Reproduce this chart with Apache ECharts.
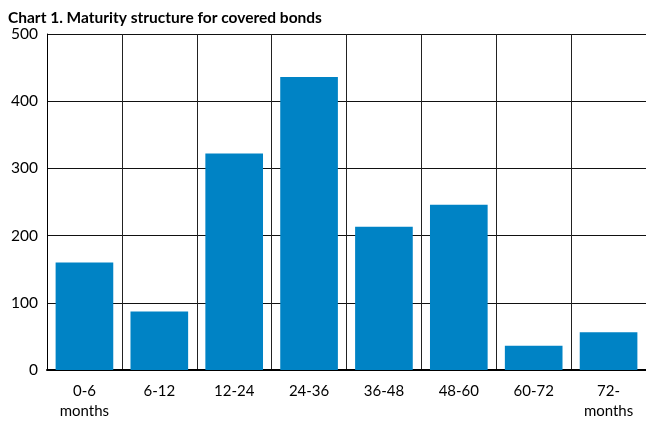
<!DOCTYPE html>
<html>
<head>
<meta charset="utf-8">
<script src="https://cdn.jsdelivr.net/npm/echarts@6/dist/echarts.min.js"></script>
<style>
  html, body { margin: 0; padding: 0; background: #fff; }
  #chart { width: 646px; height: 421px; }
</style>
</head>
<body>
<div id="chart"></div>
<script>
// Maturity buckets (months) and outstanding covered bonds per bucket
const categories = ['0-6\nmonths', '6-12', '12-24', '24-36', '36-48', '48-60', '60-72', '72-\nmonths'];
const volumes = [160, 87, 322, 436, 213, 246, 36, 56];
const yTicks = { min: 0, max: 500, interval: 100 };

const chart = echarts.init(document.getElementById('chart'), null, { renderer: 'canvas' });
chart.setOption({
  animation: false,
  title: {
    text: 'Chart 1. Maturity structure for covered bonds',
    left: 3,
    top: 5,
    textStyle: { fontFamily: 'Lato', fontWeight: 'bold', fontSize: 15.5, color: '#000' }
  },
  grid: { left: 47, top: 34, width: 605, height: 340 },
  xAxis: {
    type: 'category',
    data: categories,
    axisLine: { lineStyle: { color: '#000', width: 2 } },
    axisTick: { show: false },
    axisLabel: {
      fontFamily: 'Lato', fontSize: 15, color: '#000', margin: 11, lineHeight: 20,
      interval: 0
    },
    splitLine: { show: true, interval: 0, lineStyle: { color: '#222', width: 1 } }
  },
  yAxis: {
    type: 'value',
    min: yTicks.min,
    max: yTicks.max,
    interval: yTicks.interval,
    axisLine: { show: true, lineStyle: { color: '#000', width: 1 } },
    axisTick: { show: false },
    axisLabel: { fontFamily: 'Lato', fontSize: 15.5, color: '#000', margin: 9 },
    splitLine: { show: true, lineStyle: { color: '#111', width: 1 } }
  },
  series: [{
    type: 'bar',
    data: volumes,
    barCategoryGap: '23%',
    itemStyle: { color: '#0083C5' }
  }]
});
</script>
</body>
</html>
